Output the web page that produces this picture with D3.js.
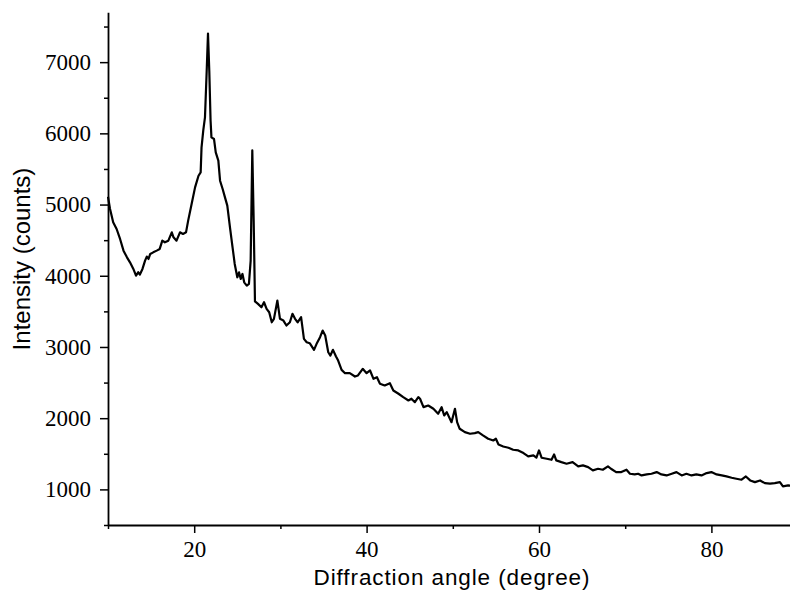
<!DOCTYPE html>
<html>
<head>
<meta charset="utf-8">
<script src="https://cdn.jsdelivr.net/npm/d3@7"></script>
<style>
  html, body { margin: 0; padding: 0; background: #fff; }
  svg { display: block; }
</style>
</head>
<body>
<svg id="chart" width="790" height="590"></svg>
<script>
// ---- data ----
const angle = [10.0,10.23,10.6,11.0,11.4,11.8,12.2,12.55,12.94,13.25,13.5,13.7,14.0,14.3,14.5,14.7,14.9,15.25,15.65,16.0,16.3,16.6,17.0,17.4,17.6,17.95,18.35,18.7,19.05,19.3,19.7,20.1,20.5,20.75,20.85,21.05,21.25,21.45,21.6,21.75,21.9,22.0,22.3,22.5,22.8,23.0,23.3,23.57,23.84,24.15,24.45,24.7,25.0,25.2,25.4,25.6,25.8,26.1,26.35,26.55,26.74,26.9,27.05,27.4,27.8,28.1,28.4,28.7,29.0,29.25,29.65,29.95,30.35,30.7,31.1,31.4,31.7,32.0,32.4,32.73,33.05,33.4,33.9,34.2,34.6,34.9,35.2,35.55,35.8,36.1,36.45,36.7,37.1,37.5,38.05,38.65,39.0,39.55,40.0,40.4,40.8,41.2,41.55,42.1,42.7,43.1,43.7,44.25,44.85,45.2,45.6,46.0,46.2,46.6,47.15,47.75,48.3,48.7,49.0,49.3,49.85,50.25,50.5,50.8,51.4,52.0,52.55,52.95,53.5,54.1,54.7,55.0,55.3,55.85,56.45,57.0,57.6,58.2,58.75,59.35,59.7,60.0,60.3,60.9,61.45,61.75,62.0,62.6,63.2,63.9,64.55,65.1,65.7,66.25,66.85,67.4,68.0,68.35,68.95,69.55,70.15,70.55,71.1,71.5,71.9,72.5,73.05,73.65,74.2,74.8,75.4,75.95,76.55,77.1,77.7,78.25,78.85,79.45,80.0,80.6,81.2,81.75,82.35,82.9,83.5,84.0,84.5,85.05,85.65,86.2,86.8,87.35,87.95,88.3,88.9,89.3];
const intensity = [5110,4942,4750,4657,4517,4353,4259,4189,4096,4002,4049,4017,4096,4213,4269,4236,4306,4329,4353,4377,4493,4470,4493,4610,4540,4493,4610,4587,4610,4774,5008,5241,5405,5452,5800,6037,6223,6879,7402,6879,6177,5943,5920,5733,5616,5335,5219,5101,4985,4680,4400,4166,3979,4049,3956,4026,3908,3862,3886,4213,5760,4774,3640,3605,3558,3628,3535,3488,3347,3395,3652,3395,3371,3301,3347,3465,3395,3347,3418,3114,3067,3053,2960,3044,3137,3231,3161,2926,2880,2960,2866,2810,2679,2632,2632,2585,2600,2693,2632,2670,2553,2576,2483,2459,2491,2389,2343,2295,2249,2273,2225,2295,2273,2155,2178,2132,2062,2155,2038,2085,1944,2132,1944,1851,1804,1781,1790,1804,1758,1711,1687,1711,1631,1603,1585,1557,1547,1510,1463,1477,1445,1547,1445,1430,1416,1491,1407,1383,1361,1383,1323,1337,1313,1267,1290,1276,1323,1290,1243,1243,1276,1220,1210,1220,1196,1210,1220,1243,1210,1196,1220,1243,1196,1220,1196,1210,1196,1229,1243,1210,1196,1182,1164,1150,1136,1182,1126,1102,1126,1088,1080,1088,1102,1042,1056,1050];
const xMajorTicks = [20, 40, 60, 80];
const xMinorTicks = [10, 30, 50, 70];
const yMajorTicks = [1000, 2000, 3000, 4000, 5000, 6000, 7000];
const yMinorTicks = [500, 1500, 2500, 3500, 4500, 5500, 6500, 7500];
const xTitle = "Diffraction angle (degree)";
const yTitle = "Intensity (counts)";

// ---- layout ----
const svg = d3.select("#chart");
svg.append("rect").attr("width", 790).attr("height", 590).attr("fill", "#fff");

const x = d3.scaleLinear().domain([10, 90]).range([108, 797.6]);
const y = d3.scaleLinear().domain([500, 7700]).range([525, 12.3]);

const serif = "'Liberation Serif', 'Times New Roman', serif";
const sans = "'Liberation Sans', Arial, sans-serif";

// data line
const pts = angle.map((a, i) => [a, intensity[i]]);
svg.append("path")
  .datum(pts)
  .attr("fill", "none")
  .attr("stroke", "#000")
  .attr("stroke-width", 2.2)
  .attr("stroke-linejoin", "round")
  .attr("d", d3.line().x(d => x(d[0])).y(d => y(d[1])));

// y axis minor
svg.append("g").attr("transform", "translate(108,0)")
  .call(d3.axisLeft(y).tickValues(yMinorTicks).tickSize(4).tickSizeOuter(0).tickFormat(""))
  .call(g => g.select(".domain").remove())
  .call(g => g.selectAll("line").attr("stroke-width", 1.5));
// y axis major
svg.append("g").attr("transform", "translate(108,0)")
  .call(d3.axisLeft(y).tickValues(yMajorTicks).tickSize(8).tickSizeOuter(0).tickPadding(9).tickFormat(d3.format("d")))
  .call(g => g.select(".domain").attr("stroke-width", 1.8))
  .call(g => g.selectAll("line").attr("stroke-width", 1.5))
  .call(g => g.selectAll("text").attr("font-family", serif).attr("font-size", 23).attr("fill", "#000"));

// x axis minor
svg.append("g").attr("transform", "translate(0,525)")
  .call(d3.axisBottom(x).tickValues(xMinorTicks).tickSize(4).tickSizeOuter(0).tickFormat(""))
  .call(g => g.select(".domain").remove())
  .call(g => g.selectAll("line").attr("stroke-width", 1.5));
// x axis major
svg.append("g").attr("transform", "translate(0,525)")
  .call(d3.axisBottom(x).tickValues(xMajorTicks).tickSize(8).tickSizeOuter(0).tickPadding(8).tickFormat(d3.format("d")))
  .call(g => g.select(".domain").attr("stroke-width", 1.8))
  .call(g => g.selectAll("line").attr("stroke-width", 1.5))
  .call(g => g.selectAll("text").attr("font-family", serif).attr("font-size", 23).attr("fill", "#000"));

// axis titles
svg.append("text")
  .attr("x", 452).attr("y", 584.5)
  .attr("text-anchor", "middle")
  .attr("font-family", sans).attr("font-size", 22.5)
  .attr("letter-spacing", 0.9).attr("fill", "#000")
  .text(xTitle);
svg.append("text")
  .attr("transform", "translate(30,259) rotate(-90)")
  .attr("text-anchor", "middle")
  .attr("font-family", sans).attr("font-size", 24).attr("fill", "#000")
  .text(yTitle);
</script>
</body>
</html>
